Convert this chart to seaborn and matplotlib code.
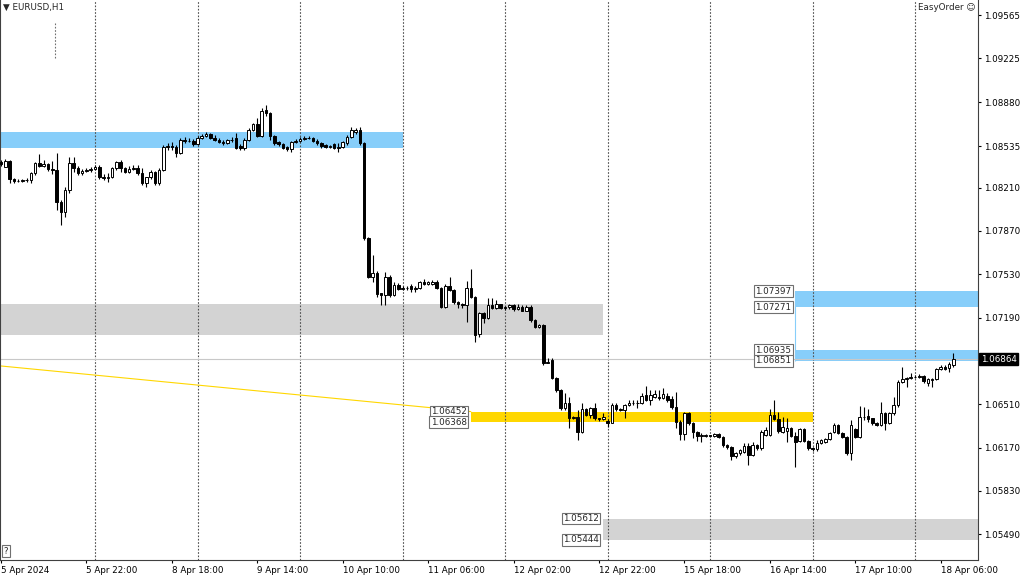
import numpy as np
import pandas as pd
import matplotlib
matplotlib.use("Agg")
import matplotlib.pyplot as plt
import seaborn as sns

# EURUSD H1 bars, 5 Apr 02:00 -> 18 Apr 09:00 (index = bar number)
opens = [
    1.08410, 1.08375, 1.08422, 1.08275, 1.08259, 1.08265, 1.08268, 1.08272,  # 0
    1.08322, 1.08406, 1.08380, 1.08395, 1.08354, 1.08345, 1.08100, 1.08021,  # 8
    1.08191, 1.08406, 1.08362, 1.08322, 1.08340, 1.08345, 1.08355, 1.08375,  # 16
    1.08291, 1.08285, 1.08290, 1.08362, 1.08414, 1.08362, 1.08335, 1.08360,  # 24
    1.08365, 1.08322, 1.08244, 1.08291, 1.08335, 1.08244, 1.08348, 1.08526,  # 32
    1.08537, 1.08526, 1.08479, 1.08584, 1.08576, 1.08580, 1.08550, 1.08602,  # 40
    1.08618, 1.08628, 1.08602, 1.08586, 1.08571, 1.08558, 1.08581, 1.08600,  # 48
    1.08540, 1.08520, 1.08584, 1.08662, 1.08707, 1.08618, 1.08819, 1.08793,  # 56
    1.08618, 1.08570, 1.08550, 1.08530, 1.08510, 1.08571, 1.08580, 1.08592,  # 64
    1.08597, 1.08602, 1.08576, 1.08558, 1.08545, 1.08531, 1.08550, 1.08524,  # 72
    1.08532, 1.08558, 1.08610, 1.08644, 1.08663, 1.08558, 1.07812, 1.07511,  # 80
    1.07537, 1.07380, 1.07370, 1.07511, 1.07367, 1.07446, 1.07414, 1.07425,  # 88
    1.07435, 1.07414, 1.07425, 1.07472, 1.07452, 1.07450, 1.07472, 1.07425,  # 96
    1.07276, 1.07440, 1.07406, 1.07315, 1.07300, 1.07289, 1.07425, 1.07354,  # 104
    1.07058, 1.07223, 1.07184, 1.07289, 1.07263, 1.07294, 1.07263, 1.07270,  # 112
    1.07288, 1.07254, 1.07275, 1.07244, 1.07275, 1.07170, 1.07118, 1.07130,  # 120
    1.06835, 1.06856, 1.06712, 1.06621, 1.06477, 1.06516, 1.06398, 1.06412,  # 128
    1.06294, 1.06469, 1.06425, 1.06477, 1.06398, 1.06390, 1.06380, 1.06365,  # 136
    1.06503, 1.06475, 1.06464, 1.06503, 1.06516, 1.06522, 1.06516, 1.06582,  # 144
    1.06542, 1.06568, 1.06568, 1.06555, 1.06574, 1.06548, 1.06485, 1.06372,  # 152
    1.06276, 1.06443, 1.06365, 1.06294, 1.06260, 1.06260, 1.06265, 1.06260,  # 160
    1.06276, 1.06255, 1.06189, 1.06171, 1.06103, 1.06124, 1.06137, 1.06181,  # 168
    1.06111, 1.06189, 1.06163, 1.06268, 1.06268, 1.06425, 1.06391, 1.06294,  # 176
    1.06300, 1.06320, 1.06260, 1.06223, 1.06312, 1.06223, 1.06170, 1.06155,  # 184
    1.06208, 1.06215, 1.06234, 1.06294, 1.06347, 1.06281, 1.06255, 1.06124,  # 192
    1.06313, 1.06255, 1.06407, 1.06417, 1.06399, 1.06365, 1.06347, 1.06443,  # 200
    1.06360, 1.06438, 1.06504, 1.06687, 1.06705, 1.06713, 1.06720, 1.06720,  # 208
    1.06731, 1.06679, 1.06700, 1.06705, 1.06784, 1.06805, 1.06792, 1.06818,  # 216
]
highs = [
    1.08425, 1.08432, 1.08427, 1.08284, 1.08275, 1.08278, 1.08285, 1.08335,
    1.08414, 1.08471, 1.08427, 1.08405, 1.08422, 1.08485, 1.08113, 1.08218,
    1.08448, 1.08448, 1.08380, 1.08355, 1.08362, 1.08370, 1.08390, 1.08388,
    1.08318, 1.08322, 1.08375, 1.08422, 1.08427, 1.08370, 1.08380, 1.08385,
    1.08388, 1.08362, 1.08296, 1.08348, 1.08343, 1.08362, 1.08545, 1.08558,
    1.08571, 1.08544, 1.08597, 1.08610, 1.08597, 1.08590, 1.08612, 1.08628,
    1.08644, 1.08636, 1.08623, 1.08597, 1.08584, 1.08590, 1.08610, 1.08636,
    1.08550, 1.08597, 1.08675, 1.08715, 1.08754, 1.08838, 1.08858, 1.08801,
    1.08625, 1.08580, 1.08560, 1.08540, 1.08580, 1.08595, 1.08605, 1.08612,
    1.08612, 1.08610, 1.08590, 1.08565, 1.08555, 1.08548, 1.08558, 1.08560,
    1.08580, 1.08625, 1.08689, 1.08681, 1.08689, 1.08570, 1.07820, 1.07681,
    1.07556, 1.07385, 1.07550, 1.07524, 1.07472, 1.07460, 1.07440, 1.07435,
    1.07450, 1.07440, 1.07480, 1.07493, 1.07480, 1.07485, 1.07485, 1.07432,
    1.07451, 1.07511, 1.07415, 1.07320, 1.07305, 1.07477, 1.07571, 1.07360,
    1.07230, 1.07230, 1.07346, 1.07346, 1.07328, 1.07300, 1.07280, 1.07300,
    1.07300, 1.07296, 1.07285, 1.07285, 1.07285, 1.07175, 1.07140, 1.07140,
    1.06870, 1.06870, 1.06720, 1.06626, 1.06595, 1.06563, 1.06420, 1.06464,
    1.06516, 1.06480, 1.06490, 1.06516, 1.06405, 1.06438, 1.06390, 1.06516,
    1.06516, 1.06480, 1.06510, 1.06542, 1.06542, 1.06540, 1.06595, 1.06652,
    1.06621, 1.06621, 1.06621, 1.06634, 1.06595, 1.06574, 1.06608, 1.06385,
    1.06451, 1.06451, 1.06372, 1.06300, 1.06281, 1.06280, 1.06272, 1.06285,
    1.06285, 1.06262, 1.06195, 1.06178, 1.06137, 1.06160, 1.06202, 1.06202,
    1.06215, 1.06195, 1.06307, 1.06333, 1.06469, 1.06542, 1.06451, 1.06412,
    1.06398, 1.06328, 1.06294, 1.06320, 1.06320, 1.06230, 1.06175, 1.06228,
    1.06240, 1.06245, 1.06290, 1.06360, 1.06355, 1.06290, 1.06262, 1.06386,
    1.06320, 1.06496, 1.06491, 1.06470, 1.06405, 1.06370, 1.06530, 1.06450,
    1.06450, 1.06569, 1.06700, 1.06799, 1.06726, 1.06752, 1.06740, 1.06745,
    1.06740, 1.06712, 1.06715, 1.06792, 1.06815, 1.06815, 1.06844, 1.06909,
]
lows = [
    1.08380, 1.08369, 1.08249, 1.08244, 1.08252, 1.08255, 1.08258, 1.08244,
    1.08309, 1.08369, 1.08375, 1.08343, 1.08317, 1.08034, 1.07917, 1.07982,
    1.08165, 1.08335, 1.08312, 1.08310, 1.08330, 1.08335, 1.08345, 1.08275,
    1.08272, 1.08257, 1.08283, 1.08348, 1.08335, 1.08328, 1.08322, 1.08345,
    1.08309, 1.08231, 1.08218, 1.08275, 1.08231, 1.08231, 1.08343, 1.08505,
    1.08505, 1.08453, 1.08477, 1.08558, 1.08565, 1.08539, 1.08544, 1.08595,
    1.08610, 1.08595, 1.08578, 1.08558, 1.08544, 1.08550, 1.08570, 1.08513,
    1.08505, 1.08505, 1.08580, 1.08655, 1.08610, 1.08610, 1.08775, 1.08584,
    1.08544, 1.08540, 1.08510, 1.08495, 1.08492, 1.08562, 1.08570, 1.08582,
    1.08590, 1.08570, 1.08544, 1.08524, 1.08520, 1.08518, 1.08515, 1.08487,
    1.08520, 1.08545, 1.08600, 1.08635, 1.08545, 1.07799, 1.07498, 1.07472,
    1.07354, 1.07289, 1.07289, 1.07355, 1.07360, 1.07405, 1.07405, 1.07410,
    1.07393, 1.07393, 1.07418, 1.07445, 1.07445, 1.07445, 1.07418, 1.07263,
    1.07268, 1.07400, 1.07294, 1.07263, 1.07265, 1.07158, 1.07341, 1.07001,
    1.07040, 1.07145, 1.07175, 1.07255, 1.07255, 1.07255, 1.07250, 1.07260,
    1.07245, 1.07248, 1.07238, 1.07238, 1.07157, 1.07105, 1.07110, 1.06817,
    1.06830, 1.06705, 1.06608, 1.06464, 1.06464, 1.06320, 1.06390, 1.06228,
    1.06286, 1.06415, 1.06398, 1.06385, 1.06380, 1.06385, 1.06333, 1.06359,
    1.06460, 1.06455, 1.06398, 1.06498, 1.06503, 1.06477, 1.06510, 1.06535,
    1.06503, 1.06560, 1.06542, 1.06548, 1.06529, 1.06469, 1.06320, 1.06228,
    1.06228, 1.06346, 1.06242, 1.06223, 1.06215, 1.06250, 1.06250, 1.06255,
    1.06248, 1.06176, 1.06155, 1.06071, 1.06084, 1.06115, 1.06130, 1.06032,
    1.06105, 1.06150, 1.06150, 1.06260, 1.06260, 1.06385, 1.06281, 1.06281,
    1.06215, 1.06250, 1.06019, 1.06215, 1.06215, 1.06150, 1.06145, 1.06145,
    1.06200, 1.06205, 1.06228, 1.06285, 1.06275, 1.06248, 1.06111, 1.06072,
    1.06245, 1.06242, 1.06386, 1.06373, 1.06350, 1.06340, 1.06340, 1.06307,
    1.06355, 1.06425, 1.06491, 1.06674, 1.06648, 1.06705, 1.06715, 1.06712,
    1.06679, 1.06653, 1.06648, 1.06700, 1.06775, 1.06778, 1.06765, 1.06805,
]
closes = [
    1.08395, 1.08422, 1.08275, 1.08259, 1.08265, 1.08268, 1.08272, 1.08322,
    1.08406, 1.08380, 1.08395, 1.08354, 1.08345, 1.08100, 1.08021, 1.08191,
    1.08406, 1.08362, 1.08322, 1.08340, 1.08345, 1.08355, 1.08375, 1.08291,
    1.08285, 1.08290, 1.08362, 1.08414, 1.08362, 1.08335, 1.08360, 1.08365,
    1.08322, 1.08244, 1.08291, 1.08335, 1.08244, 1.08348, 1.08526, 1.08537,
    1.08526, 1.08479, 1.08584, 1.08576, 1.08580, 1.08550, 1.08602, 1.08618,
    1.08628, 1.08602, 1.08586, 1.08571, 1.08558, 1.08581, 1.08587, 1.08524,
    1.08520, 1.08584, 1.08662, 1.08707, 1.08618, 1.08811, 1.08793, 1.08618,
    1.08563, 1.08550, 1.08518, 1.08510, 1.08571, 1.08580, 1.08592, 1.08597,
    1.08602, 1.08576, 1.08558, 1.08539, 1.08531, 1.08535, 1.08524, 1.08532,
    1.08571, 1.08610, 1.08663, 1.08663, 1.08558, 1.07812, 1.07511, 1.07537,
    1.07373, 1.07370, 1.07511, 1.07367, 1.07446, 1.07414, 1.07425, 1.07420,
    1.07414, 1.07420, 1.07472, 1.07452, 1.07467, 1.07472, 1.07425, 1.07276,
    1.07440, 1.07406, 1.07315, 1.07297, 1.07289, 1.07420, 1.07354, 1.07053,
    1.07223, 1.07184, 1.07289, 1.07263, 1.07294, 1.07263, 1.07270, 1.07285,
    1.07254, 1.07275, 1.07244, 1.07275, 1.07170, 1.07118, 1.07130, 1.06835,
    1.06843, 1.06712, 1.06621, 1.06477, 1.06516, 1.06398, 1.06412, 1.06294,
    1.06469, 1.06425, 1.06477, 1.06398, 1.06390, 1.06406, 1.06365, 1.06503,
    1.06469, 1.06464, 1.06503, 1.06516, 1.06522, 1.06516, 1.06574, 1.06542,
    1.06582, 1.06590, 1.06555, 1.06590, 1.06542, 1.06485, 1.06372, 1.06276,
    1.06443, 1.06365, 1.06294, 1.06260, 1.06268, 1.06270, 1.06260, 1.06276,
    1.06255, 1.06189, 1.06171, 1.06103, 1.06124, 1.06150, 1.06181, 1.06111,
    1.06189, 1.06163, 1.06294, 1.06307, 1.06425, 1.06391, 1.06302, 1.06328,
    1.06320, 1.06260, 1.06215, 1.06312, 1.06223, 1.06163, 1.06155, 1.06208,
    1.06228, 1.06234, 1.06281, 1.06347, 1.06281, 1.06255, 1.06124, 1.06347,
    1.06255, 1.06407, 1.06412, 1.06396, 1.06360, 1.06347, 1.06443, 1.06360,
    1.06443, 1.06504, 1.06687, 1.06705, 1.06713, 1.06720, 1.06726, 1.06731,
    1.06695, 1.06705, 1.06705, 1.06784, 1.06805, 1.06784, 1.06826, 1.06864,
]

# time axis: day separators and labelled bars
day_starts = [22, 46, 70, 94, 118, 142, 166, 190, 214]
time_ticks = [0, 20, 40, 60, 80, 100, 120, 140, 160, 180, 200, 220]
time_labels = ["5 Apr 2024", "5 Apr 22:00", "8 Apr 18:00", "9 Apr 14:00",
               "10 Apr 10:00", "11 Apr 06:00", "12 Apr 02:00", "12 Apr 22:00",
               "15 Apr 18:00", "16 Apr 14:00", "17 Apr 10:00", "18 Apr 06:00"]

price_ticks = [1.09565, 1.09225, 1.08880, 1.08535, 1.08210, 1.07870,
               1.07530, 1.07190, 1.06510, 1.06170, 1.05830, 1.05490]
last_price = 1.06864

# rectangles drawn on the chart (start/end bar, top/bottom price)
zone_start = [-5, -5, 110, 186, 186, 141]
zone_end = [94, 141, 190, None, None, None]
zone_top = [1.08647, 1.07296, 1.06452, 1.07397, 1.06935, 1.05612]
zone_bottom = [1.08521, 1.07052, 1.06368, 1.07271, 1.06851, 1.05444]
zone_color = ["#87CEFA", "#D3D3D3", "#FFD700", "#87CEFA", "#87CEFA", "#D3D3D3"]
zone_labelled = [False, False, True, True, True, True]

# yellow trend line
trend_bar = [0, 110]
trend_price = [1.06810, 1.06452]

# small dotted marker at top left
marker_bar = 12.6
marker_prices = [1.09227, 1.09510]

df = pd.DataFrame({"bar": np.arange(len(closes)), "open": opens,
                   "high": highs, "low": lows, "close": closes})

sns.set_theme(style="white")
plt.rcParams["font.family"] = ["DejaVu Sans"]
fs = 6.3

fig = plt.figure(figsize=(10.24, 5.76), dpi=100)
ax = fig.add_axes([0.0, 16 / 576, 978 / 1024, 560 / 576])
ax.set_xlim(-0.244, 228.74)
ax.set_ylim(1.05287, 1.09683)
xmax = ax.get_xlim()[1]

# zones
for s, e, top, bot, col in zip(zone_start, zone_end, zone_top, zone_bottom, zone_color):
    end = xmax + 5 if e is None else e
    ax.fill_between([s, end], bot, top, color=col, lw=0, zorder=1)

ax.vlines(zone_start[3], zone_bottom[4], zone_top[3], color="#87CEFA", lw=0.8, zorder=1)

# day separators
for d in day_starts:
    ax.axvline(d, color="#505050", lw=0.8, ls=(0, (1.5, 1.5)), zorder=2)

ax.vlines(marker_bar, marker_prices[0], marker_prices[1], color="#707070",
          lw=0.8, ls=(0, (1.5, 1.5)), zorder=2)

# bid line
ax.axhline(last_price, color="#C8C8C8", lw=0.8, zorder=2)

# trend line
sns.lineplot(x=trend_bar, y=trend_price, ax=ax, color="#FFD700", lw=0.8, zorder=2)

# candles
up = df["close"] >= df["open"]
ax.vlines(df["bar"], df["low"], df["high"], color="black", lw=0.8, zorder=3)
body = (df["close"] - df["open"]).abs().clip(lower=0.00001)
ax.bar(df["bar"], body, bottom=df[["open", "close"]].min(axis=1), width=0.6,
       color=np.where(up, "white", "black"), edgecolor="black", linewidth=0.7, zorder=4)

# zone price labels
box = dict(boxstyle="square,pad=0.15", fc="white", ec="#707070", lw=0.8)
for s, top, bot, lab in zip(zone_start, zone_top, zone_bottom, zone_labelled):
    if not lab:
        continue
    for p in (top, bot):
        ax.annotate(f"{p:.5f}", xy=(s, p), xytext=(-3, 0), textcoords="offset points",
                    ha="right", va="center", fontsize=fs, bbox=box, zorder=6)

# axes styling
ax.yaxis.tick_right()
ax.set_yticks(price_ticks)
ax.set_yticklabels([f"{p:.5f}" for p in price_ticks])
ax.set_xticks(time_ticks)
ax.set_xticklabels(time_labels)
for lbl in ax.get_xticklabels():
    lbl.set_horizontalalignment("left")
ax.tick_params(axis="both", length=2.5, width=0.8, labelsize=fs, colors="black",
               pad=2, direction="out")
ax.tick_params(axis="x", bottom=True)
ax.tick_params(axis="y", right=True)
for side in ["top"]:
    ax.spines[side].set_visible(False)
for side in ["right", "bottom", "left"]:
    ax.spines[side].set_color("#404040")
    ax.spines[side].set_linewidth(0.8)
ax.grid(False)
ax.set_xlabel("")
ax.set_ylabel("")

# current price tag on the axis
ax.annotate(f"{last_price:.5f}", xy=(1, last_price), xycoords=("axes fraction", "data"),
            xytext=(2, 0), textcoords="offset points", ha="left", va="center",
            fontsize=fs, color="white",
            bbox=dict(boxstyle="square,pad=0.2", fc="black", ec="black"),
            annotation_clip=False, zorder=7)

ax.text(0.003, 0.986, "\u25bc EURUSD,H1", transform=ax.transAxes, fontsize=fs,
        ha="left", va="center")
ax.text(0.997, 0.986, "EasyOrder \u263a", transform=ax.transAxes, fontsize=fs,
        ha="right", va="center")
ax.text(0.004, 0.008, "?", transform=ax.transAxes, fontsize=fs, ha="left", va="bottom",
        bbox=dict(boxstyle="square,pad=0.2", fc="white", ec="#707070", lw=0.8))

fig.savefig("out.png", dpi=100)
